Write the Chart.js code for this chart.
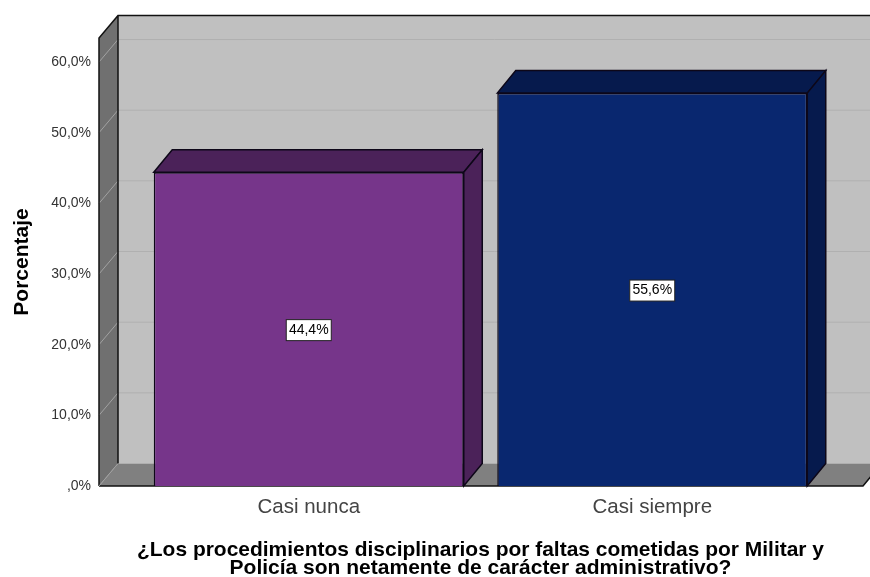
<!DOCTYPE html>
<html lang="es">
<head>
    <meta charset="UTF-8">
    <title>Porcentaje</title>
    <script src="https://cdn.jsdelivr.net/npm/chart.js"></script>
    <style>
        body { margin: 0; background: #fff; }
        #myChart { display: block; }
    </style>
</head>
<body>
<canvas id="myChart" width="870" height="577"></canvas>
<script>
    const categories = ['Casi nunca', 'Casi siempre'];
    const percentages = [44.4, 55.6];
    const barColors = ['#76358A', '#09276F'];
    const barShades = ['#4B2259', '#061A4D'];
    const axisTitle = ['¿Los procedimientos disciplinarios por faltas cometidas por Militar y', 'Policía son netamente de carácter administrativo?'];

    // depth of the fake 3D box
    const DX = 18.5, DY = 22.5;
    const WALL_EXTRA = 39; // floor and walls reach past the category band
    const FONT = '"Liberation Sans", Arial, sans-serif';

    function fmt(v) {
        const s = v.toFixed(1).replace('.', ',');
        return (s.startsWith('0') ? s.slice(1) : s) + '%';
    }

    function poly(ctx, pts, fill, stroke, lw) {
        ctx.beginPath();
        pts.forEach((p, i) => i ? ctx.lineTo(p[0], p[1]) : ctx.moveTo(p[0], p[1]));
        ctx.closePath();
        if (fill) { ctx.fillStyle = fill; ctx.fill(); }
        if (stroke) { ctx.strokeStyle = stroke; ctx.lineWidth = lw || 1; ctx.stroke(); }
    }

    const box3d = {
        id: 'box3d',
        beforeDatasetsDraw(chart) {
            const ctx = chart.ctx, a = chart.chartArea, y = chart.scales.y;
            const l = a.left - 38, r = a.right + WALL_EXTRA, t = a.top, b = a.bottom;
            ctx.save();
            // back wall, side wall, floor
            poly(ctx, [[l + DX + 0.5, t - DY], [r + DX, t - DY], [r + DX, b - DY], [l + DX + 0.5, b - DY]], '#C0C0C0');
            poly(ctx, [[l, t], [l + DX + 0.5, t - DY], [l + DX + 0.5, b - DY], [l, b]], '#707070');
            poly(ctx, [[l, b], [r, b], [r + DX, b - DY], [l + DX + 0.5, b - DY]], '#808080');
            // grid lines
            ctx.lineWidth = 1;
            y.ticks.forEach(tick => {
                if (tick.value === 0) return;
                const py = y.getPixelForValue(tick.value);
                ctx.strokeStyle = '#B0B0B0';
                ctx.beginPath();
                ctx.moveTo(l + DX + 0.5, py - DY);
                ctx.lineTo(r + DX, py - DY);
                ctx.stroke();
                ctx.strokeStyle = '#A2A2A2';
                ctx.beginPath();
                ctx.moveTo(l, py);
                ctx.lineTo(l + DX + 0.5, py - DY);
                ctx.stroke();
            });
            // frame
            ctx.strokeStyle = '#111';
            ctx.lineWidth = 1.5;
            ctx.beginPath();
            ctx.moveTo(l, b);
            ctx.lineTo(l, t);
            ctx.lineTo(l + DX + 0.5, t - DY);
            ctx.lineTo(r + DX, t - DY);
            ctx.moveTo(l + DX + 0.5, t - DY);
            ctx.lineTo(l + DX + 0.5, b - DY);
            ctx.moveTo(l, b);
            ctx.lineTo(r, b);
            ctx.lineTo(r + DX, b - DY);
            ctx.stroke();
            ctx.strokeStyle = '#A0A0A0';
            ctx.lineWidth = 1;
            ctx.beginPath();
            ctx.moveTo(l, b);
            ctx.lineTo(l + DX + 0.5, b - DY);
            ctx.stroke();
            ctx.restore();
        },
        afterDatasetsDraw(chart) {
            const ctx = chart.ctx;
            ctx.save();
            chart.getDatasetMeta(0).data.forEach((bar, i) => {
                const x0 = bar.x - bar.width / 2, x1 = bar.x + bar.width / 2;
                const top = bar.y, base = bar.base;
                poly(ctx, [[x0, top], [x0 + DX, top - DY], [x1 + DX, top - DY], [x1, top]], barShades[i], '#0D0718', 1.5);
                poly(ctx, [[x1, top], [x1 + DX, top - DY], [x1 + DX, base - DY], [x1, base]], barShades[i], '#0D0718', 1.5);
                // value label box
                const cy = (top + base) / 2 + 1;
                ctx.fillStyle = '#fff';
                ctx.strokeStyle = '#222';
                ctx.lineWidth = 1;
                ctx.fillRect(bar.x - 22.5, cy - 10.5, 45, 21);
                ctx.strokeRect(bar.x - 22.5, cy - 10.5, 45, 21);
                ctx.fillStyle = '#000';
                ctx.font = '14px ' + FONT;
                ctx.textAlign = 'center';
                ctx.textBaseline = 'middle';
                ctx.fillText(fmt(percentages[i]), bar.x, cy);
            });
            ctx.restore();
        }
    };

    new Chart(document.getElementById('myChart'), {
        type: 'bar',
        data: {
            labels: categories,
            datasets: [{
                data: percentages,
                backgroundColor: barColors,
                borderColor: '#0D0718',
                borderWidth: 1.5,
                barPercentage: 0.9025,
                categoryPercentage: 1
            }]
        },
        options: {
            responsive: false,
            animation: false,
            devicePixelRatio: 1,
            layout: { padding: { top: 38, right: 46 } },
            plugins: { legend: { display: false }, tooltip: { enabled: false } },
            scales: {
                x: {
                    grid: { display: false },
                    border: { display: false },
                    afterFit(scale) { scale.height = 91; },
                    ticks: { color: '#444', padding: 1, font: { family: FONT, size: 20.5 } },
                    title: {
                        display: true,
                        text: axisTitle,
                        color: '#000',
                        padding: { top: 0, bottom: 0 },
                        font: { family: FONT, size: 21, weight: 'bold', lineHeight: 0.86 }
                    }
                },
                y: {
                    min: 0,
                    max: 63.4,
                    grid: { display: false },
                    border: { display: false },
                    // tick padding also feeds the top padding of the scale, drop it
                    afterFit(scale) { scale.width = 137; scale.paddingTop = 0; scale.paddingBottom = 0; },
                    afterBuildTicks(scale) { scale.ticks = scale.ticks.filter(t => t.value <= 60); },
                    ticks: {
                        stepSize: 10,
                        padding: 38,
                        color: '#333',
                        font: { family: FONT, size: 14 },
                        callback: v => fmt(v)
                    },
                    title: {
                        display: true,
                        text: 'Porcentaje',
                        color: '#000',
                        padding: { top: 10, bottom: 0 },
                        font: { family: FONT, size: 21, weight: 'bold' }
                    }
                }
            }
        },
        plugins: [box3d]
    });
</script>
</body>
</html>
